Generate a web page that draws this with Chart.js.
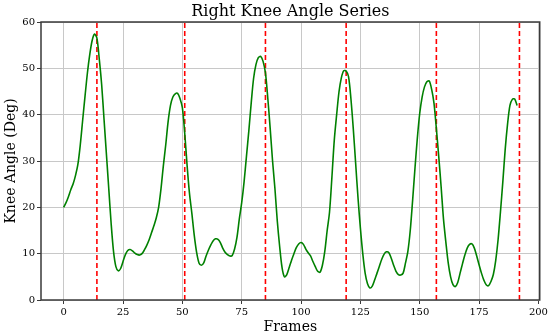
<!DOCTYPE html>
<html>
<head>
<meta charset="utf-8">
<script src="https://cdn.jsdelivr.net/npm/chart.js@4"></script>
<style>
  html, body { margin: 0; padding: 0; background: #fff; }
</style>
</head>
<body>
<canvas id="knee" width="550" height="336"></canvas>
<script>
// right knee angle, one value per frame (0..191)
const kneeAngle = [
  20.0, 21.0, 22.3, 23.8, 25.1, 26.9, 29.3, 33.5, 38.8, 44.0,
  49.0, 53.0, 56.0, 57.4, 56.5, 52.0, 46.5, 39.0, 31.5, 24.0,
  16.5, 10.5, 7.2, 6.3, 6.8, 8.3, 9.8, 10.7, 10.9, 10.6,
  10.1, 9.8, 9.7, 10.0, 10.8, 11.8, 13.0, 14.5, 16.0, 17.7,
  20.0, 24.0, 29.0, 33.5, 38.5, 42.0, 43.8, 44.5, 44.6, 43.5,
  41.5, 36.0, 29.0, 23.0, 18.7, 14.0, 10.3, 8.0, 7.5, 8.0,
  9.5, 10.8, 11.9, 12.8, 13.2, 13.1, 12.4, 11.2, 10.3, 9.8,
  9.5, 9.6, 11.0, 13.5, 17.5, 21.0, 25.5, 31.0, 36.5, 42.5,
  47.8, 50.8, 52.3, 52.6, 51.5, 49.0, 43.5, 37.0, 30.0, 24.0,
  17.0, 11.5, 7.0, 5.0, 5.5, 7.0, 8.6, 10.0, 11.3, 12.1,
  12.4, 12.0, 11.0, 10.2, 9.5, 8.3, 7.2, 6.2, 6.0, 7.5,
  10.5, 15.0, 19.0, 26.5, 34.5, 40.0, 45.0, 48.0, 49.5, 49.4,
  48.2, 43.5, 37.0, 29.5, 22.0, 15.5, 10.0, 5.8, 3.5, 2.6,
  3.0, 4.3, 5.8, 7.3, 8.8, 9.9, 10.4, 10.2, 9.0, 7.5,
  6.2, 5.5, 5.4, 5.8, 8.0, 10.5, 15.0, 21.5, 28.5, 35.0,
  40.3, 43.8, 46.0, 47.1, 47.3, 45.5, 42.5, 37.0, 31.0, 24.5,
  17.5, 12.5, 8.0, 5.0, 3.3, 2.9, 3.8, 5.8, 7.8, 9.7,
  11.2, 12.0, 12.1, 11.2, 9.5, 7.6, 5.8, 4.3, 3.3, 3.1,
  4.0, 5.5, 8.5, 13.0, 19.0, 25.5, 32.5, 38.0, 42.0, 43.3,
  43.4, 42.0
];
const frames = kneeAngle.map((v, i) => i);

// frames marked with red dashed lines
const markFrames = [14, 51, 85, 119, 157, 192];

const xTicks = [0, 25, 50, 75, 100, 125, 150, 175, 200];
const yTicks = [0, 10, 20, 30, 40, 50, 60];

const chartTitle = 'Right Knee Angle Series';
const serif = "'DejaVu Serif', serif";

const datasets = [{
  label: 'Right Knee Angle',
  data: frames.map((f, i) => ({ x: f, y: kneeAngle[i] })),
  borderColor: '#008000',
  borderWidth: 1.6,
  pointRadius: 0,
  tension: 0.3,
  fill: false
}];
markFrames.forEach(f => {
  datasets.push({
    data: [{ x: f, y: 0 }, { x: f, y: 60 }],
    borderColor: '#ff0000',
    borderWidth: 1.6,
    borderDash: [5, 3],
    pointRadius: 0,
    fill: false
  });
});

// box around the plot + title centred over the plot area
const frameBox = {
  id: 'frameBox',
  afterDraw(chart) {
    const a = chart.chartArea, c = chart.ctx;
    c.save();
    c.strokeStyle = '#3a3a3a';
    c.lineWidth = 1.5;
    c.strokeRect(a.left, a.top, a.right - a.left, a.bottom - a.top);
    c.fillStyle = '#000';
    c.font = '16px ' + serif;
    c.textAlign = 'center';
    c.textBaseline = 'alphabetic';
    c.fillText(chartTitle, (a.left + a.right) / 2, 16);
    c.restore();
  }
};

new Chart(document.getElementById('knee').getContext('2d'), {
  type: 'line',
  data: { datasets: datasets },
  plugins: [frameBox],
  options: {
    responsive: false,
    animation: false,
    layout: { padding: { left: 0, right: 10, top: 22, bottom: 0 } },
    plugins: {
      legend: { display: false },
      tooltip: { enabled: false },
      title: { display: false }
    },
    scales: {
      x: {
        type: 'linear',
        min: -9.55,
        max: 200.55,
        afterBuildTicks: s => { s.ticks = xTicks.map(v => ({ value: v })); },
        afterFit: s => { s.height = 36; },
        ticks: { color: '#000', font: { family: serif, size: 10 }, padding: 2 },
        grid: { color: '#c8c8c8', lineWidth: 1, tickColor: '#3a3a3a', tickLength: 4 },
        border: { display: false },
        title: {
          display: true, text: 'Frames', color: '#000',
          font: { family: serif, size: 14 }, padding: { top: 0, bottom: 0 }
        }
      },
      y: {
        min: 0,
        max: 60,
        afterBuildTicks: s => { s.ticks = yTicks.map(v => ({ value: v })); },
        afterFit: s => { s.width = 41; },
        ticks: { color: '#000', font: { family: serif, size: 10 }, padding: 2 },
        grid: { color: '#c8c8c8', lineWidth: 1, tickColor: '#3a3a3a', tickLength: 4 },
        border: { display: false },
        title: {
          display: true, text: 'Knee Angle (Deg)', color: '#000',
          font: { family: serif, size: 14 }, padding: { top: 3, bottom: 0 }
        }
      }
    }
  }
});
</script>
</body>
</html>
